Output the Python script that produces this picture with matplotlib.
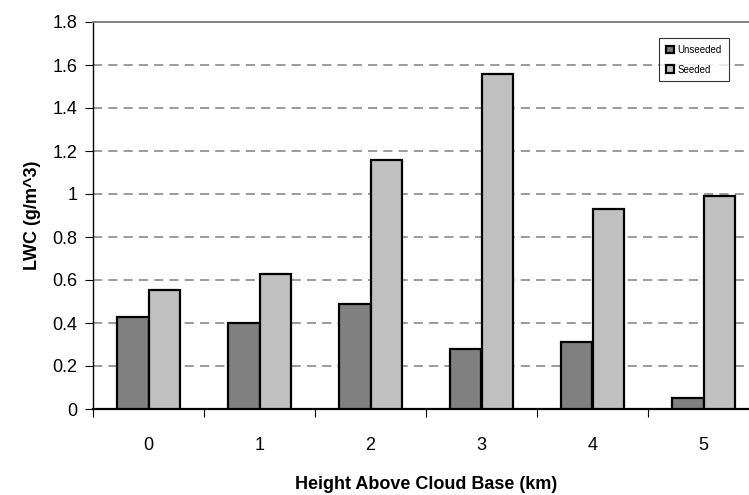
import matplotlib
matplotlib.use("Agg")
import matplotlib.pyplot as plt
import numpy as np

categories = ["0", "1", "2", "3", "4", "5"]
unseeded = [0.43, 0.40, 0.49, 0.28, 0.31, 0.05]
seeded = [0.555, 0.63, 1.16, 1.56, 0.93, 0.99]
yticks = [0, 0.2, 0.4, 0.6, 0.8, 1, 1.2, 1.4, 1.6, 1.8]
ytick_labels = ["0", "0.2", "0.4", "0.6", "0.8", "1", "1.2", "1.4", "1.6", "1.8"]

plt.rcParams['font.family'] = ['Liberation Sans', 'DejaVu Sans']

W, H = 749, 495
fig = plt.figure(figsize=(W / 100, H / 100), dpi=100)
left, right, top, zero = 93, 759, 22, 409
ax = fig.add_axes([left / W, (H - zero) / H, (right - left) / W, (zero - top) / H])

x = np.arange(len(categories))
w = 0.288
ax.bar(x - w/2, unseeded, width=w, color="#808080", edgecolor="black", linewidth=1.6, label="Unseeded", zorder=3)
ax.bar(x + w/2, seeded, width=w, color="#C0C0C0", edgecolor="black", linewidth=1.6, label="Seeded", zorder=3)

ax.set_xlim(-0.5, len(categories) - 0.5)
ax.set_ylim(0, 1.8)
ax.set_yticks(yticks)
ax.set_yticklabels(ytick_labels, fontsize=13)
ax.set_xticks(x)
ax.set_xticklabels(categories, fontsize=13)
ax.set_xticks(np.arange(len(categories) + 1) - 0.5, minor=True)
ax.tick_params(axis='x', which='major', length=0, pad=20)
ax.tick_params(axis='x', which='minor', length=6, direction='out', width=0.8)
ax.tick_params(axis='y', length=6, direction='out', width=0.8, pad=5)

for yv in yticks[1:-1]:
    ax.axhline(yv, color="#808080", linestyle=(0, (6, 4)), linewidth=1.1, zorder=1)

ax.spines['right'].set_visible(False)
ax.spines['top'].set_color("#808080")
ax.spines['top'].set_linewidth(1.4)
ax.spines['left'].set_linewidth(1.0)
ax.spines['bottom'].set_linewidth(1.6)

ax.set_ylabel("LWC (g/m^3)", fontsize=13, fontweight='bold', labelpad=8)
ax.set_xlabel("Height Above Cloud Base (km)", fontsize=13, fontweight='bold', labelpad=16)

leg = ax.legend(loc='upper left', bbox_to_anchor=((659 - left) / (right - left), (zero - 38) / (zero - top)),
                fontsize=7, frameon=True, fancybox=False, edgecolor='black', handlelength=0.8,
                handleheight=0.8, borderpad=0.7, labelspacing=1.0, handletextpad=0.4,
                borderaxespad=0)
leg.get_frame().set_linewidth(0.8)
leg.set_zorder(5)

fig.savefig("out.png", dpi=100)
